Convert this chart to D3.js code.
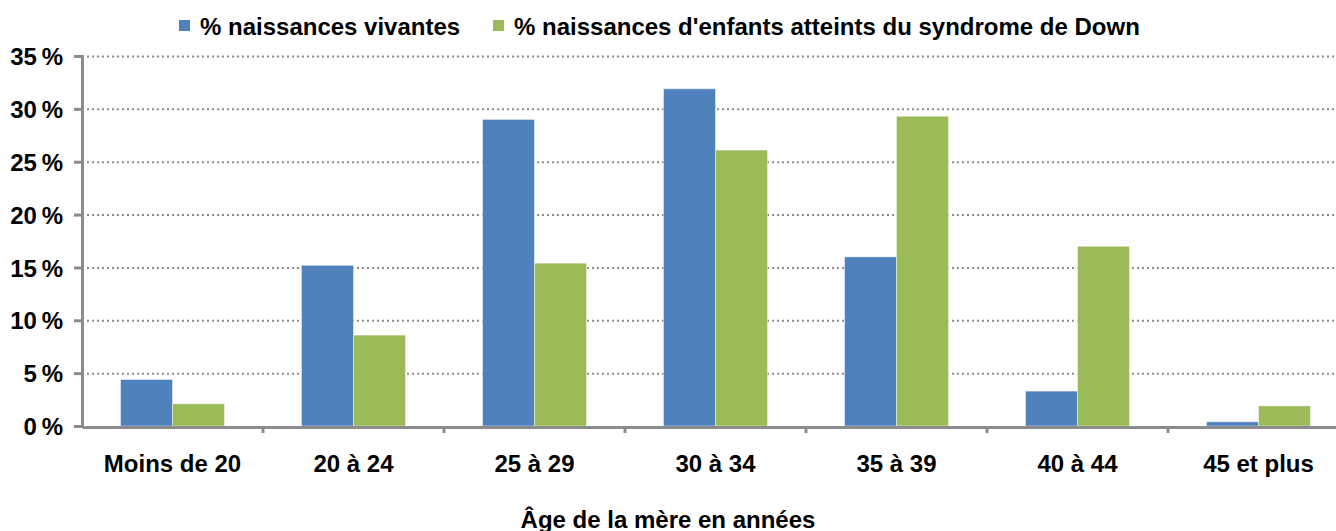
<!DOCTYPE html>
<html>
<head>
<meta charset="utf-8">
<script src="https://cdn.jsdelivr.net/npm/d3@7"></script>
<style>
body{margin:0;background:#fff;overflow:hidden;}
text{font-family:"Liberation Sans",Arial,sans-serif;font-weight:bold;fill:#000;}
</style>
</head>
<body>
<div id="chart"></div>
<script>
// data
var categories=["Moins de 20","20 à 24","25 à 29","30 à 34","35 à 39","40 à 44","45 et plus"];
var seriesNames=["% naissances vivantes","% naissances d'enfants atteints du syndrome de Down"];
var naissancesVivantes=[4.4,15.2,29.0,31.9,16.0,3.3,0.4];
var naissancesDown=[2.1,8.6,15.4,26.1,29.3,17.0,1.9];
var yTicks=[0,5,10,15,20,25,30,35];
var seriesColors=["#4f81bd","#9bbb59"];
var xTitle="Âge de la mère en années";

(function(){
	var width=1336,height=531;
	var left=82,plotTop=56,bottom=426;
	var bandw=181;
	var fs="24px";

	var svg=d3.select("#chart").append("svg")
		.attr("width",width)
		.attr("height",height);

	var x0=d3.scaleBand()
		.domain(categories)
		.range([left,left+bandw*categories.length])
		.padding(0);
	var x1=d3.scaleBand()
		.domain([0,1])
		.range([38.5,142.5])
		.padding(0);
	var y=d3.scaleLinear()
		.domain([0,35])
		.range([bottom,plotTop]);

	// gridlines
	svg.append("g")
		.attr("transform","translate("+left+",0)")
		.call(d3.axisLeft(y).tickValues(yTicks.slice(1)).tickSize(-(width-left)).tickFormat(""))
		.call(function(g){
			g.select(".domain").remove();
			g.selectAll("line").attr("stroke","#8c8c8c").attr("stroke-width",2).attr("stroke-dasharray","2,3");
		});

	// bars
	var rows=categories.map(function(c,i){return [naissancesVivantes[i],naissancesDown[i]];});
	svg.append("g")
		.selectAll("g")
		.data(rows)
		.enter()
		.append("g")
		.attr("transform",function(d,i){return "translate("+x0(categories[i])+",0)";})
		.selectAll("rect")
		.data(function(d){return d;})
		.enter()
		.append("rect")
		.attr("x",function(d,j){return x1(j);})
		.attr("y",function(d){return y(d);})
		.attr("width",x1.bandwidth())
		.attr("height",function(d){return bottom-y(d);})
		.style("fill",function(d,j){return seriesColors[j];})
		.attr("stroke","#ffffff")
		.attr("stroke-opacity",0.45)
		.attr("stroke-width",1);

	// y axis
	svg.append("g")
		.attr("transform","translate("+left+",0)")
		.call(d3.axisLeft(y).tickValues(yTicks).tickSize(8).tickPadding(11).tickFormat(function(d){return d+"\u2009%";}))
		.call(function(g){
			g.select(".domain").attr("stroke","#8c8c8c").attr("stroke-width",3);
			g.selectAll(".tick line").attr("stroke","#8c8c8c").attr("stroke-width",3);
			g.selectAll("text").style("font-size",fs).attr("dy","0.36em").attr("fill","#000");
		});

	// x axis
	svg.append("g")
		.attr("transform","translate(0,"+(bottom+1)+")")
		.call(d3.axisBottom(x0).tickSize(0).tickPadding(45))
		.call(function(g){
			g.select(".domain").attr("stroke","#8c8c8c").attr("stroke-width",3);
			g.selectAll("text").style("font-size",fs).attr("dy","0").attr("fill","#000");
		});
	svg.append("g")
		.selectAll("line")
		.data(categories)
		.enter()
		.append("line")
		.attr("x1",function(d){return x0(d)+bandw;})
		.attr("x2",function(d){return x0(d)+bandw;})
		.attr("y1",bottom)
		.attr("y2",bottom+7)
		.attr("stroke","#8c8c8c")
		.attr("stroke-width",3);

	// x title
	svg.append("text")
		.attr("x",668)
		.attr("y",528)
		.attr("text-anchor","middle")
		.style("font-size",fs)
		.text(xTitle);

	// legend
	var legx=[179,493];
	var leg=svg.append("g").selectAll("g")
		.data(seriesNames)
		.enter()
		.append("g")
		.attr("transform",function(d,i){return "translate("+legx[i]+",20)";});
	leg.append("rect")
		.attr("width",11)
		.attr("height",11)
		.style("fill",function(d,i){return seriesColors[i];});
	leg.append("text")
		.attr("x",21)
		.attr("y",15)
		.style("font-size",fs)
		.text(function(d){return d;});
})();
</script>
</body>
</html>
